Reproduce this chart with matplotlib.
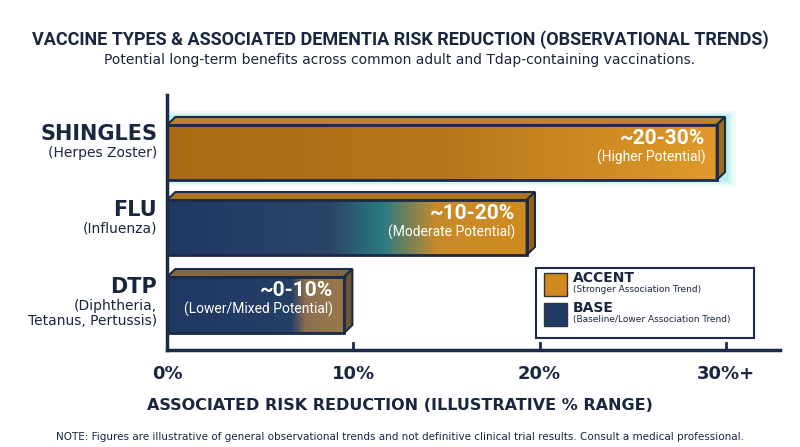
import matplotlib.pyplot as plt
import numpy as np
from matplotlib.colors import LinearSegmentedColormap, to_rgb
from matplotlib.patches import Rectangle, Polygon

vaccines = ["SHINGLES", "FLU", "DTP"]
subnames = ["(Herpes Zoster)", "(Influenza)", "(Diphtheria,\nTetanus, Pertussis)"]
ends = [29.5, 19.3, 9.5]
range_labels = ["~20-30%", "~10-20%", "~0-10%"]
potential = ["(Higher Potential)", "(Moderate Potential)", "(Lower/Mixed Potential)"]
ticks = [0, 10, 20, 30]
tick_labels = ["0%", "10%", "20%", "30%+"]

navy = "#1f3864"
orange = "#d08a1e"
dark_orange = "#a86a14"
edge = "#1b2a4a"

grads = [
    [(0, dark_orange), (0.5, "#b8761a"), (1, "#e09a2a")],
    [(0, navy), (0.45, "#2b4468"), (0.6, "#2a7a80"), (0.75, "#c88a2a"), (1, orange)],
    [(0, navy), (0.7, "#253f66"), (0.78, "#8a7050"), (1, "#9a7a4a")],
]

fig = plt.figure(figsize=(8, 4.47), dpi=100)
ax = fig.add_axes([167/800, 1-350/447, 613/800, 255/447])
ax.set_xlim(0, 32.9)
ax.set_ylim(350, 95)
ax.axis("off")

ys = [(125, 180), (200, 255), (277, 333)]
dx, dy = 0.45, 8
for i, (y0, y1) in enumerate(ys):
    e = ends[i]
    cmap = LinearSegmentedColormap.from_list("g%d" % i, grads[i])
    grad = np.linspace(0, 1, 256).reshape(1, -1)
    if i == 0:
        for k, a in enumerate([0.12, 0.2, 0.3]):
            pad = 6 - 2 * k
            ax.add_patch(Rectangle((0, y0 - dy - pad), e + dx + 0.1 * pad, y1 - y0 + dy + 2 * pad,
                                   color="#7fe0e0", alpha=a, lw=0, zorder=1))
    ax.imshow(grad, cmap=cmap, aspect="auto", extent=[0, e, y1, y0], zorder=2)
    top_c = to_rgb(grads[i][-1][1])
    ax.add_patch(Polygon([(0, y0), (dx, y0 - dy), (e + dx, y0 - dy), (e, y0)],
                         closed=True, fc=[c * 0.85 for c in top_c], ec=edge, lw=1.5, zorder=3))
    ax.add_patch(Polygon([(e, y0), (e + dx, y0 - dy), (e + dx, y1 - dy), (e, y1)],
                         closed=True, fc=[c * 0.7 for c in top_c], ec=edge, lw=1.5, zorder=3))
    ax.add_patch(Rectangle((0, y0), e, y1 - y0, fill=False, ec=edge, lw=2, zorder=3))
    ym = (y0 + y1) / 2
    ax.text(e - 0.6, ym - 5, range_labels[i], ha="right", va="bottom", color="white",
            fontsize=15, fontweight="bold", fontfamily="Roboto", zorder=4)
    ax.text(e - 0.6, ym - 3, potential[i], ha="right", va="top", color="white",
            fontsize=10, fontfamily="Roboto", zorder=4)
    fig.text(157/800, 1 - (ym - 8) / 447, vaccines[i], ha="right", va="bottom",
             fontsize=15, fontweight="bold", color="#1a2540")
    fig.text(157/800, 1 - (ym - 6) / 447, subnames[i], ha="right", va="top",
             fontsize=10, color="#1a2540", linespacing=1.1)

# axes lines
ax.plot([0, 0], [95, 350], color=edge, lw=2.5, clip_on=False)
ax.plot([0, 32.9], [350, 350], color=edge, lw=2.5, clip_on=False)
for t, lab in zip(ticks, tick_labels):
    ax.plot([t, t], [350, 343], color=edge, lw=2, clip_on=False)
    ax.text(t, 365, lab, ha="center", va="top", fontsize=13, fontweight="bold", color="#1a2540")

# legend
ax.add_patch(Rectangle((19.8, 268), 11.7, 70, fill=False, ec=edge, lw=1.5, zorder=4))
for j, (c, t1, t2) in enumerate([(orange, "ACCENT", "(Stronger Association Trend)"),
                                 (navy, "BASE", "(Baseline/Lower Association Trend)")]):
    yy = 273 + j * 30
    ax.add_patch(Rectangle((20.25, yy), 1.2, 23, fc=c, ec="#333", lw=1, zorder=5))
    ax.text(21.8, yy + 12, t1, fontsize=10, fontweight="bold", color="#1a2540", va="bottom")
    ax.text(21.8, yy + 12, t2, fontsize=6.5, color="#1a2540", va="top")

fig.text(0.5, 1 - 40/447, "VACCINE TYPES & ASSOCIATED DEMENTIA RISK REDUCTION (OBSERVATIONAL TRENDS)",
         ha="center", va="center", fontsize=13, fontweight="bold", color="#1a2540",
         fontfamily="Roboto")
fig.text(0.5, 1 - 60/447, "Potential long-term benefits across common adult and Tdap-containing vaccinations.",
         ha="center", va="center", fontsize=10, color="#1a2540")
fig.text(0.5, 1 - 405/447, "ASSOCIATED RISK REDUCTION (ILLUSTRATIVE % RANGE)",
         ha="center", va="center", fontsize=11.5, fontweight="bold", color="#1a2540")
fig.text(0.5, 1 - 437/447, "NOTE: Figures are illustrative of general observational trends and not definitive clinical trial results. Consult a medical professional.",
         ha="center", va="center", fontsize=7.5, color="#1a2540")

fig.savefig("out.png", dpi=100)
